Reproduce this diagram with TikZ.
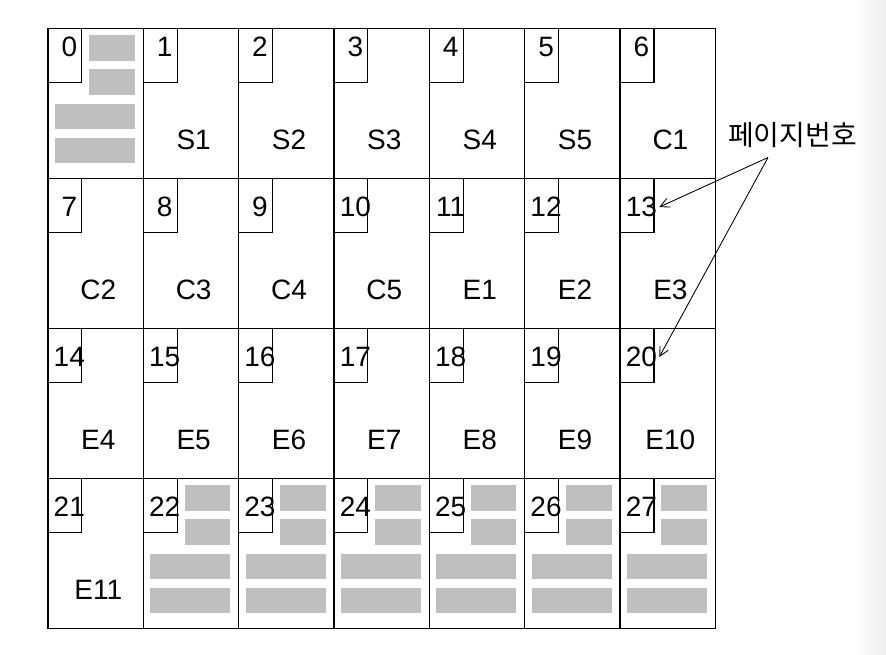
\documentclass[tikz,border=0pt]{standalone}
\usepackage{fontspec}
\setmainfont{Liberation Sans}
\newfontfamily\krfont{Noto Sans CJK KR}
\usetikzlibrary{arrows.meta}

\begin{document}
\begin{tikzpicture}[
    x=0.75pt, y=-0.75pt,
    cell/.style={rectangle, draw, line width=1pt, minimum width=71.5pt, minimum height=112.5pt, anchor=north west, inner sep=0pt},
    numbox/.style={rectangle, draw, line width=0.85pt, minimum width=25.5pt, minimum height=40.5pt, anchor=north west, inner sep=0pt},
    pgnum/.style={anchor=base, inner sep=1.5pt, font=\fontsize{21}{25}\selectfont},
    pagelbl/.style={anchor=base, inner sep=0pt, font=\fontsize{21}{25}\selectfont},
    usedblk/.style={fill=black!25},
    ptr/.style={-{Straight Barb[length=7pt,width=7pt]}, line width=0.65pt}
]
    \useasboundingbox (0,0) rectangle (886,654);
    \shade[left color=white, right color=black!7] (853,0) rectangle (886,654);

    % page cells with their number boxes
    \foreach \n in {0,...,27}{
        \pgfmathtruncatemacro\col{mod(\n,7)}
        \pgfmathtruncatemacro\row{int(\n/7)}
        \pgfmathsetmacro\px{47.3+\col*95.35}
        \pgfmathsetmacro\py{27.7+\row*150}
        \pgfmathsetmacro\dy{\row==0 ? 29 : 39}
        \node[cell] (c\n) at (\px,\py) {};
        \node[numbox] (b\n) at (\px,\py) {};
        \node[pgnum] (n\n) at (\px+22,\py+\dy) {\n};
    }

    % page contents
    \foreach \n/\t in {1/S1,2/S2,3/S3,4/S4,5/S5,6/C1,7/C2,8/C3,9/C4,10/C5,11/E1,12/E2,13/E3,
                       14/E4,15/E5,16/E6,17/E7,18/E8,19/E9,20/E10,21/E11}
        \node[pagelbl] (t\n) at ([xshift=38.25pt, yshift=-91.5pt]c\n.north west) {\t};

    % used blocks
    \foreach \n in {0,22,23,24,25,26,27}{
        \fill[usedblk] ([xshift=31.5pt, yshift=-5.6pt]c\n.north west) rectangle ++(34.3pt,-19.3pt);
        \fill[usedblk] ([xshift=31.5pt, yshift=-31.2pt]c\n.north west) rectangle ++(34.3pt,-19.3pt);
        \fill[usedblk] ([xshift=5.8pt, yshift=-57.2pt]c\n.north west) rectangle ++(60pt,-19pt);
        \fill[usedblk] ([xshift=5.8pt, yshift=-82.5pt]c\n.north west) rectangle ++(60pt,-19pt);
    }

    \node[font=\krfont\fontsize{21}{25}\selectfont] (pglabel) at (792.5,135) {페이지번호};
    \coordinate (src) at (768,157.5);

    \draw[ptr] (src) -- (n13.east);
    \draw[ptr] (src) -- (n20.east);
\end{tikzpicture}
\end{document}
